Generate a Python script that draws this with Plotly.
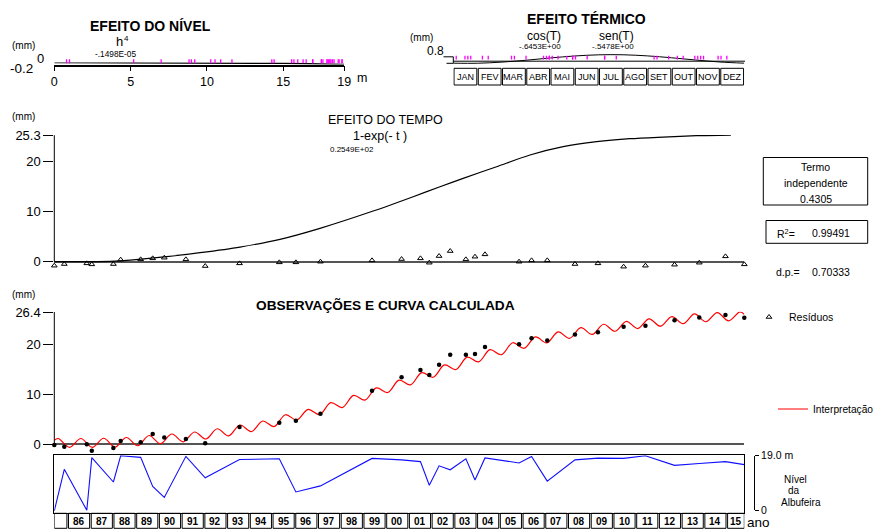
import plotly.graph_objects as go

W, H = 875, 530
FAMILY = "Liberation Sans, Arial, Helvetica, sans-serif"

# ---------------------------------------------------------------- data
# observation dates (decimal years)
OBS_DATE = [1985.41, 1985.85, 1986.84, 1987.06, 1988.01, 1988.33, 1989.21,
            1989.74, 1990.25, 1991.20, 1992.05, 1993.56, 1995.31, 1996.04,
            1997.12, 1999.39, 2000.69, 2001.52, 2001.91, 2002.34, 2002.83,
            2003.52, 2003.92, 2004.36, 2005.86, 2006.41, 2007.10, 2008.32,
            2009.33, 2010.46, 2011.42, 2012.70, 2013.79, 2014.94, 2015.77]
# observed displacement (mm)
OBS_MM = [-0.20, -0.53, -0.07, -1.33, -0.80, 0.60, 0.37, 2.00, 1.30, 1.00,
          0.13, 3.40, 4.27, 4.67, 6.03, 10.67, 13.33, 14.80, 13.80, 15.87,
          17.87, 17.87, 18.00, 19.40, 19.93, 21.13, 20.70, 21.90, 22.33,
          23.47, 23.67, 24.73, 25.30, 25.80, 25.27]
# residuals (mm)
RESIDUO_MM = [-0.80, -0.47, -0.33, -0.53, -0.47, 0.40, 0.47, 0.67, 0.80, 0.47,
              -0.87, -0.33, -0.13, -0.13, 0.00, 0.27, 0.53, 0.67, -0.20, 1.13,
              2.13, 0.47, 1.00, 1.47, 0.00, 0.27, 0.27, -0.47, -0.33, -1.00,
              -0.80, -0.60, -0.20, 1.07, -0.53]
# reservoir level at each observation (m)
NIVEL_M = [0.8, 14.4, 1.0, 18.24, 10.25, 18.85, 18.33, 8.83, 5.2, 18.66,
           11.64, 17.6, 17.87, 7.0, 8.98, 17.98, 17.5, 16.93, 9.2, 15.55,
           14.25, 17.87, 10.9, 18.13, 16.5, 18.6, 10.53, 17.5, 18.07, 18.0,
           18.85, 15.7, 16.3, 16.93, 15.95]

# time effect 0.2549E+02 (1-exp(-t))
TEMPO_DATE = [1985.41, 1987.86, 1988.30, 1990.36, 1991.82, 1993.58, 1995.34,
              1997.10, 1999.44, 2001.20, 2002.38, 2003.40, 2004.87, 2006.34,
              2007.80, 2009.27, 2010.74, 2012.20, 2013.67, 2015.18]
TEMPO_MM = [0.0, 0.05, 0.15, 1.0, 1.8, 2.93, 4.47, 6.67, 10.13, 13.0, 15.0,
            16.67, 19.0, 21.33, 23.0, 24.0, 24.6, 24.93, 25.2, 25.33]

# calculated curve (interpretation): turning points of the seasonal wave
CALC_DATE = [1985.41, 1985.58, 1986.08, 1986.58, 1987.08, 1987.58, 1988.08,
             1988.58, 1989.08, 1989.58, 1990.08, 1990.58, 1991.08, 1991.58,
             1992.08, 1992.58, 1993.08, 1993.58, 1994.08, 1994.58, 1995.08,
             1995.58, 1996.08, 1996.58, 1997.08, 1997.58, 1998.08, 1998.58,
             1999.08, 1999.58, 2000.08, 2000.58, 2001.08, 2001.58, 2002.08,
             2002.58, 2003.08, 2003.58, 2004.08, 2004.58, 2005.08, 2005.58,
             2006.08, 2006.58, 2007.08, 2007.58, 2008.08, 2008.58, 2009.08,
             2009.58, 2010.08, 2010.58, 2011.08, 2011.58, 2012.08, 2012.58,
             2013.08, 2013.58, 2014.08, 2014.58, 2015.08, 2015.58, 2015.77]
CALC_MM = [0.75, 1.10, -0.66, 1.10, -0.68, 1.15, -0.60, 1.30, -0.35, 1.70,
           0.08, 2.00, 0.43, 2.40, 1.00, 3.05, 1.62, 3.80, 2.48, 4.60, 3.48,
           5.85, 4.80, 6.91, 5.88, 8.27, 7.29, 9.72, 8.77, 11.22, 10.30,
           12.77, 11.82, 14.27, 13.35, 15.82, 14.90, 17.37, 16.42, 18.86,
           17.86, 20.25, 19.15, 21.43, 20.23, 22.42, 21.14, 23.26, 21.91,
           23.95, 22.55, 24.54, 23.09, 25.04, 23.56, 25.49, 24.07, 26.02,
           24.45, 26.26, 24.64, 26.41, 25.91]

# thermal effect over the year (month boundaries)
MESES = ["JAN", "FEV", "MAR", "ABR", "MAI", "JUN",
         "JUL", "AGO", "SET", "OUT", "NOV", "DEZ"]
TERMICO_MES = [0, 1, 2, 3, 4, 5, 6, 7, 8, 9, 10, 11, 12]
TERMICO_MM = [-0.82, -0.83, -0.61, -0.24, 0.20, 0.59, 0.82, 0.83, 0.61,
              0.24, -0.20, -0.59, -0.82]

# level effect -.1498E-05 h^4
NIVEL_H = [0, 5, 10, 15, 19]
NIVEL_EFEITO_MM = [0.0, -0.0009, -0.015, -0.076, -0.195]

ANOS = list(range(1985, 2016))
T_INI, T_FIM = 1985.41, 2015.77


# ---------------------------------------------------------------- helpers
def fx(px):
    return px / W


def fy(py):
    return 1 - py / H


def dom_y(top, bottom):
    return [fy(bottom), fy(top)]


def txt(s, x, y, size, bold=False, xanchor="center"):
    return dict(text=f"<b>{s}</b>" if bold else s, x=fx(x), y=fy(y),
                xref="paper", yref="paper", xanchor=xanchor, yanchor="middle",
                showarrow=False, borderpad=0,
                font=dict(family=FAMILY, size=size, color="black"))


TIME_DOM = [fx(54.3), fx(744.3)]
hidden = dict(visible=False, showgrid=False, zeroline=False, automargin=False)

fig = go.Figure()

# time effect panel
fig.add_trace(go.Scatter(x=TEMPO_DATE, y=TEMPO_MM, mode="lines",
                         line=dict(color="black", width=1.2, shape="spline",
                                   smoothing=0.8),
                         xaxis="x", yaxis="y", showlegend=False))
fig.add_trace(go.Scatter(x=OBS_DATE, y=RESIDUO_MM, mode="markers",
                         name="Resíduos", legend="legend",
                         marker=dict(symbol="triangle-up-open", size=5,
                                     color="black", line=dict(width=1)),
                         cliponaxis=False, xaxis="x", yaxis="y"))

# observations and calculated curve
fig.add_trace(go.Scatter(x=CALC_DATE, y=CALC_MM, mode="lines",
                         name="Interpretação", legend="legend2",
                         line=dict(color="#ff0000", width=1.2, shape="spline",
                                   smoothing=1.0),
                         xaxis="x2", yaxis="y2"))
fig.add_trace(go.Scatter(x=OBS_DATE, y=OBS_MM, mode="markers",
                         marker=dict(symbol="circle", size=4.5, color="black"),
                         cliponaxis=False, xaxis="x2", yaxis="y2",
                         showlegend=False))

# reservoir level
fig.add_trace(go.Scatter(x=OBS_DATE, y=NIVEL_M, mode="lines",
                         line=dict(color="#1010ff", width=1.1),
                         xaxis="x3", yaxis="y3", showlegend=False))
fig.add_trace(go.Scatter(x=[], y=[], xaxis="x3", yaxis="y4",
                         showlegend=False))

# thermal effect
fig.add_trace(go.Scatter(x=TERMICO_MES, y=TERMICO_MM, mode="lines",
                         line=dict(color="black", width=1, shape="spline"),
                         xaxis="x5", yaxis="y5", showlegend=False))
fig.add_trace(go.Scatter(x=[(d % 1) * 12 for d in OBS_DATE],
                         y=[0.5] * len(OBS_DATE), mode="markers",
                         marker=dict(symbol="line-ns", size=4,
                                     line=dict(color="#ff00ff", width=1.3)),
                         xaxis="x5", yaxis="y8", showlegend=False))

# level effect
fig.add_trace(go.Scatter(x=NIVEL_H, y=NIVEL_EFEITO_MM, mode="lines",
                         line=dict(color="black", width=1.5),
                         xaxis="x6", yaxis="y6", showlegend=False))
fig.add_trace(go.Scatter(x=NIVEL_M, y=[0.5] * len(NIVEL_M), mode="markers",
                         marker=dict(symbol="line-ns", size=4,
                                     line=dict(color="#ff00ff", width=1.3)),
                         xaxis="x6", yaxis="y7", showlegend=False))

tickfont = dict(family=FAMILY, size=13, color="black")

layout = dict(
    width=W, height=H,
    margin=dict(l=0, r=0, t=0, b=0, pad=0, autoexpand=False),
    paper_bgcolor="white", plot_bgcolor="rgba(0,0,0,0)",
    font=dict(family=FAMILY, color="black"),
    showlegend=True,
    xaxis=dict(domain=TIME_DOM, range=[T_INI, T_FIM], anchor="y",
               showline=False, ticks="", showticklabels=False,
               showgrid=False, zeroline=False, automargin=False),
    yaxis=dict(domain=dom_y(134.95, 269.2), range=[-1.5, 25.35], anchor="x",
               showline=False, ticks="outside", ticklen=10,
               tickcolor="black", tickvals=[0, 10, 20, 25.3],
               ticktext=["0", "10", "20", "25.3"], tickfont=tickfont,
               showgrid=False, zeroline=True, zerolinecolor="#555",
               zerolinewidth=1.6, automargin=False),
    xaxis2=dict(domain=TIME_DOM, range=[T_INI, T_FIM], anchor="y2",
                showline=False, ticks="", showticklabels=False,
                showgrid=False, zeroline=False, automargin=False),
    yaxis2=dict(domain=dom_y(311.75, 452.5), range=[-1.7, 26.45],
                anchor="x2", showline=False, ticks="outside", ticklen=10,
                tickcolor="black", tickvals=[0, 10, 20, 26.4],
                ticktext=["0", "10", "20", "26.4"], tickfont=tickfont,
                showgrid=False, zeroline=True, zerolinecolor="#555",
                zerolinewidth=1.6, automargin=False),
    xaxis3=dict(domain=TIME_DOM, range=[T_INI, T_FIM], anchor="y3",
                showline=True, mirror=True, linecolor="black", linewidth=1,
                ticks="", showticklabels=False, showgrid=False,
                zeroline=False, automargin=False),
    yaxis3=dict(domain=dom_y(455.3, 513.3), range=[0, 19], anchor="x3",
                showline=True, mirror=True, linecolor="black", linewidth=1,
                ticks="", showticklabels=False, showgrid=False,
                zeroline=False, automargin=False),
    yaxis4=dict(domain=dom_y(455.7, 510.0), range=[0, 19], anchor="free",
                position=fx(754), side="right", showline=True,
                linecolor="black", linewidth=1, ticks="outside", ticklen=4,
                tickcolor="black", tickvals=[0, 19], ticktext=["0", "19.0 m"],
                tickfont=dict(family=FAMILY, size=10.5, color="black"),
                showgrid=False, zeroline=False, automargin=False),
    xaxis5=dict(domain=[fx(453.3), fx(744.3)], range=[0, 12], anchor="y5",
                **hidden),
    yaxis5=dict(domain=dom_y(53.9, 64.1), range=[-1.0, 1.0], anchor="x5",
                **hidden),
    yaxis8=dict(domain=dom_y(55.7, 59.4), range=[0, 1], anchor="x5",
                **hidden),
    xaxis6=dict(domain=[fx(54.3), fx(344.3)], range=[0, 19], anchor="y6",
                showline=True, linecolor="black", linewidth=1.5,
                ticks="outside", ticklen=5, tickcolor="black",
                tickvals=[0, 5, 10, 15, 19],
                tickfont=dict(family=FAMILY, size=12.5, color="black"),
                showgrid=False, zeroline=False, automargin=False),
    yaxis6=dict(domain=dom_y(62.5, 64.5), range=[-0.2, 0], anchor="x6",
                **hidden),
    yaxis7=dict(domain=dom_y(59.3, 63.3), range=[0, 1], anchor="x6",
                **hidden),
    legend=dict(x=fx(749), y=fy(317), xanchor="left", yanchor="middle",
                bgcolor="rgba(0,0,0,0)", borderwidth=0, itemwidth=30,
                font=dict(family=FAMILY, size=10.5, color="black")),
    legend2=dict(x=fx(773), y=fy(409), xanchor="left", yanchor="middle",
                 bgcolor="rgba(0,0,0,0)", borderwidth=0, itemwidth=30,
                 font=dict(family=FAMILY, size=10.2, color="black")),
)

shapes = []
# left axis lines of the time panels (0 .. top)
shapes.append(dict(type="line", xref="x domain", yref="y", x0=0, x1=0,
                   y0=0, y1=25.3, line=dict(color="black", width=1)))
shapes.append(dict(type="line", xref="x2 domain", yref="y2", x0=0, x1=0,
                   y0=0, y1=26.4, line=dict(color="black", width=1)))

# year boxes under the level panel
inset = 0.035
annotations = []
for a in ANOS:
    x0 = max(a, T_INI)
    x1 = min(a + 1, T_FIM)
    shapes.append(dict(type="rect", xref="x3", yref="paper",
                       x0=x0 + (inset if a > ANOS[0] else 0),
                       x1=x1 - (inset if a < ANOS[-1] else 0),
                       y0=fy(528.3), y1=fy(513.3),
                       line=dict(color="black", width=1)))
    if a >= 1986:
        annotations.append(dict(text=f"<b>{a % 100:02d}</b>",
                                x=(x0 + x1) / 2, y=fy(521), xref="x3",
                                yref="paper", showarrow=False,
                                xanchor="center", yanchor="middle",
                                font=dict(family=FAMILY, size=10,
                                          color="black")))

# month boxes of the thermal panel
for i, m in enumerate(MESES):
    shapes.append(dict(type="rect", xref="x5", yref="paper",
                       x0=i + 0.03, x1=i + 1 - 0.03,
                       y0=fy(85.0), y1=fy(68.3),
                       line=dict(color="black", width=1)))
    annotations.append(dict(text=m, x=i + 0.5, y=fy(76.8), xref="x5",
                            yref="paper", showarrow=False, xanchor="center",
                            yanchor="middle",
                            font=dict(family=FAMILY, size=9, color="black")))

# thermal panel bracket and base line
shapes.append(dict(type="path", xref="paper", yref="paper",
                   path=(f"M {fx(443.5)},{fy(56.8)} L {fx(453.3)},{fy(56.8)} "
                         f"L {fx(453.3)},{fy(63.3)} L {fx(446.5)},{fy(63.3)}"),
                   line=dict(color="black", width=1)))
shapes.append(dict(type="line", xref="paper", yref="paper",
                   x0=fx(453.3), x1=fx(745), y0=fy(61.2), y1=fy(61.2),
                   line=dict(color="black", width=1)))

# statistics boxes
shapes.append(dict(type="rect", xref="paper", yref="paper",
                   x0=fx(763.3), x1=fx(867.7), y0=fy(205), y1=fy(157.5),
                   line=dict(color="black", width=1)))
shapes.append(dict(type="rect", xref="paper", yref="paper",
                   x0=fx(766), x1=fx(867.7), y0=fy(243.3), y1=fy(220.5),
                   line=dict(color="black", width=1)))

annotations += [
    txt("EFEITO DO NÍVEL", 150.8, 25.5, 14, bold=True),
    txt("h", 119.5, 42, 13),
    txt("4", 126.5, 38.5, 8),
    txt("-.1498E-05", 116, 53.5, 8.3),
    txt("(mm)", 23, 46, 10),
    txt("0", 40, 59, 13),
    txt("-0.2", 21.5, 68.5, 13.5),
    txt("m", 362, 77.5, 12.5),
    txt("EFEITO TÉRMICO", 586, 19, 14, bold=True),
    txt("(mm)", 421, 37.5, 10),
    txt("0.8", 435, 50.5, 12),
    txt("cos(T)", 543.5, 36, 12),
    txt("-.6453E+00", 540, 46.5, 8),
    txt("sen(T)", 616.5, 36, 12),
    txt("-.5478E+00", 613, 46.5, 8),
    txt("(mm)", 23, 116.5, 10),
    txt("EFEITO DO TEMPO", 385.5, 120, 12.5),
    txt("1-exp(- t )", 380, 135.5, 12.5),
    txt("0.2549E+02", 352, 149.5, 8),
    txt("Termo", 815.5, 167, 10.5),
    txt("independente", 815.5, 183, 10.5),
    txt("0.4305", 815.5, 199, 10.5),
    txt("R<sup>2</sup>=", 786, 233, 10.5),
    txt("0.99491", 830.5, 233, 10.5),
    txt("d.p.=", 787.5, 272, 10.5),
    txt("0.70333", 830.5, 272, 10.5),
    txt("(mm)", 23, 294.5, 10),
    txt("OBSERVAÇÕES E CURVA CALCULADA", 385.5, 305, 13.7, bold=True),
    txt("Nível", 795, 479, 10),
    txt("da", 793.5, 490.5, 10),
    txt("Albufeira", 800.5, 502, 10),
    txt("ano", 758, 522.5, 13.5),
]

layout["shapes"] = shapes
layout["annotations"] = annotations
fig.update_layout(**layout)

fig.write_html("out.html")
